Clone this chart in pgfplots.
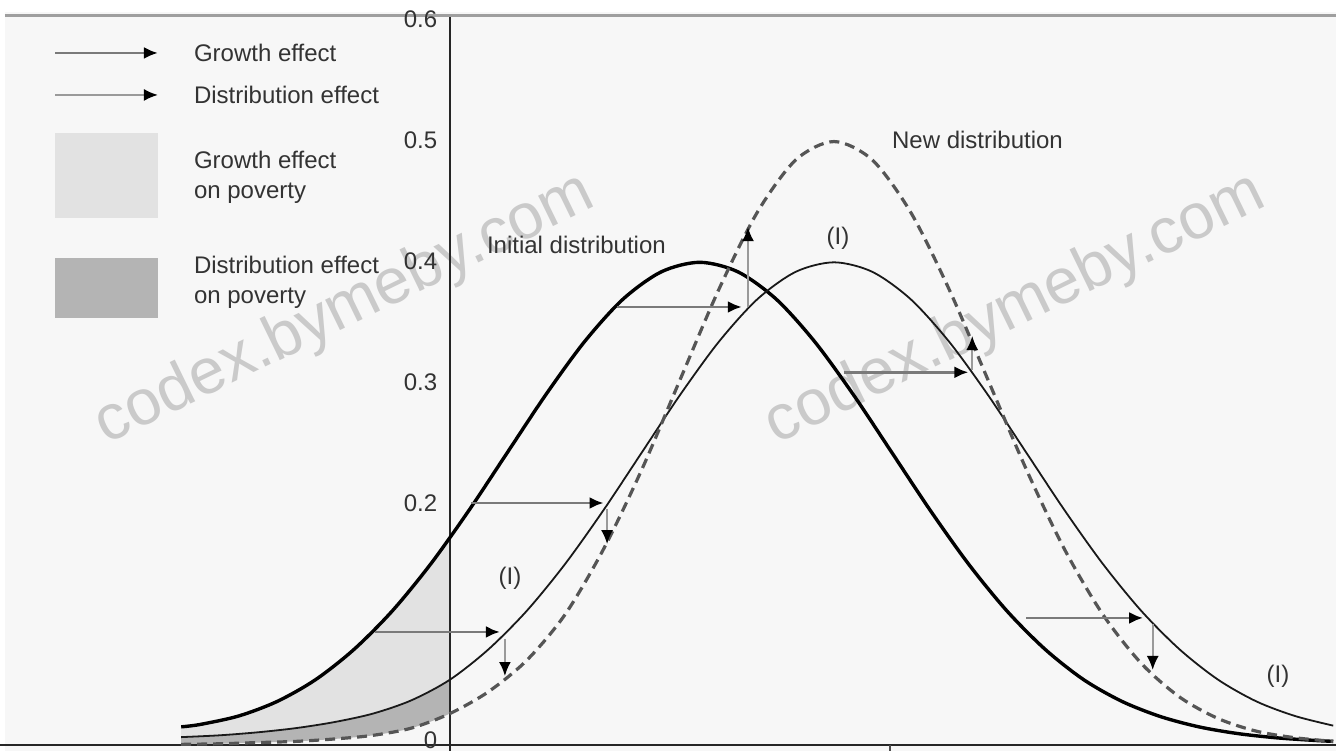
\documentclass[border=0pt]{standalone}
\usepackage{pgfplots}
\pgfplotsset{compat=1.18}
\usepackage{pgfplotstable}
\usepgfplotslibrary{fillbetween}
\usetikzlibrary{arrows.meta}
\usepackage{fontspec}
\setmainfont{Liberation Sans}

\definecolor{bgcol}{HTML}{F7F7F7}
\definecolor{growfill}{HTML}{E2E2E2}
\definecolor{distfill}{HTML}{B4B4B4}
\definecolor{growarr}{HTML}{7A7A7A}
\definecolor{distarr}{HTML}{9A9A9A}
\definecolor{txt}{HTML}{333333}
\definecolor{wm}{HTML}{CACACA}
\definecolor{newcol}{HTML}{555555}

% initial distribution
\pgfplotstableread{
x y
-1.4 0.015
-1.3 0.017
-1.1 0.024
-0.9 0.036
-0.7 0.054
-0.5 0.079
-0.3 0.1109
-0.1 0.1497
0.1 0.1942
0.3 0.2420
0.5 0.2897
0.7 0.3332
0.9 0.3683
1.1 0.3910
1.3 0.3989
1.5 0.3910
1.7 0.3683
1.9 0.3332
2.1 0.2897
2.3 0.2420
2.5 0.1942
2.7 0.1497
2.9 0.1109
3.1 0.0790
3.3 0.0540
3.5 0.0360
3.7 0.0235
3.9 0.0150
4.1 0.0095
4.3 0.0060
4.5 0.0038
4.6 0.0030
}\initial

% after growth (I)
\pgfplotstableread{
x y
-1.4 0.0065
-1.2 0.0080
-1.0 0.0105
-0.8 0.0140
-0.6 0.0190
-0.4 0.0260
-0.2 0.0370
0.0 0.0540
0.2 0.0790
0.4 0.1109
0.6 0.1497
0.8 0.1942
1.0 0.2420
1.2 0.2897
1.4 0.3332
1.6 0.3683
1.8 0.3910
2.0 0.3989
2.2 0.3910
2.4 0.3683
2.6 0.3332
2.8 0.2897
3.0 0.2420
3.2 0.1942
3.4 0.1497
3.6 0.1109
3.8 0.0790
4.0 0.0540
4.2 0.0360
4.4 0.0240
4.6 0.0160
}\growth

% new distribution
\pgfplotstableread{
x y
-1.4 0.0005
-1.2 0.001
-1.0 0.002
-0.8 0.003
-0.6 0.005
-0.4 0.008
-0.2 0.014
0.0 0.026
0.2 0.044
0.4 0.070
0.6 0.108
0.8 0.162
1.0 0.228
1.2 0.3025
1.4 0.3764
1.6 0.4401
1.8 0.4834
2.0 0.4987
2.2 0.4834
2.4 0.4401
2.6 0.3764
2.8 0.3025
3.0 0.2283
3.2 0.1619
3.4 0.1079
3.6 0.0675
3.8 0.0396
4.0 0.0219
4.2 0.0114
4.4 0.0060
4.6 0.0030
}\newdist

\begin{document}
\begin{tikzpicture}[font=\fontsize{12}{15}\selectfont]
\begin{axis}[name=ax, set layers,
  width=668pt, height=375.5pt, scale only axis,
  xmin=-2.34375, xmax=4.6146, ymin=-0.00496, ymax=0.6157,
  axis lines=none, xtick=\empty, ytick=\empty,
  axis background/.style={fill=bgcol},
  growarrow/.style={growarr, line width=1.4pt, -{Latex[black,length=7pt,width=6pt]}},
  distarrow/.style={distarr, line width=1pt, -{Latex[black,length=7pt,width=6pt]}},
]
% white margins of the scan
\fill[white] (rel axis cs:0,0.984) rectangle (rel axis cs:1,1);
\fill[white] (rel axis cs:0,0) rectangle (rel axis cs:0.004,1);

% paths for the shaded areas (left of the poverty line x = 0)
\addplot[draw=none, smooth, name path=init] table {\initial};
\addplot[draw=none, smooth, name path=grow] table {\growth};
\addplot[draw=none, smooth, name path=new] table {\newdist};
\addplot[growfill] fill between[of=init and grow,
  soft clip={(axis cs:-1.45,-0.004) rectangle (axis cs:0,0.6)}];
\addplot[distfill] fill between[of=grow and new,
  soft clip={(axis cs:-1.45,-0.004) rectangle (axis cs:0,0.6)}];

% watermark
\node[wm, rotate=26, font=\fontsize{32}{32}\selectfont] at (axis cs:-0.547,0.3595) {codex.bymeby.com};
\node[wm, rotate=26, font=\fontsize{32}{32}\selectfont] at (axis cs:2.943,0.3595) {codex.bymeby.com};

% frame lines
\draw[gray!75, line width=1.5pt] (axis cs:-2.318,0.6025) -- (axis cs:4.6146,0.6025);
\draw[black!85, line width=1.3pt] (axis cs:-2.34375,0) -- (axis cs:4.6146,0);
\draw[black!85, line width=1pt] (axis cs:0,0.6015) -- (axis cs:0,-0.00496);
\draw[black!70, line width=0.6pt] (axis cs:2.292,0) -- (axis cs:2.292,-0.005);

% curves
\addplot[black, line width=1.7pt, smooth] table {\initial};
\addplot[black!90, line width=0.9pt, smooth] table {\growth};
\addplot[newcol, line width=1.6pt, smooth, dash pattern=on 5pt off 3pt] table {\newdist};

% growth effect arrows
\addplot[growarrow] coordinates {(-0.39,0.0934) (0.26,0.0934)};
\addplot[growarrow] coordinates {(0.11,0.200) (0.80,0.200)};
\addplot[growarrow] coordinates {(0.87,0.362) (1.52,0.362)};
\addplot[growarrow] coordinates {(2.05,0.308) (2.70,0.308)};
\addplot[growarrow] coordinates {(3.00,0.105) (3.61,0.105)};
% distribution effect arrows
\addplot[distarrow] coordinates {(0.286,0.088) (0.286,0.057)};
\addplot[distarrow] coordinates {(0.818,0.195) (0.818,0.166)};
\addplot[distarrow] coordinates {(1.552,0.362) (1.552,0.428)};
\addplot[distarrow] coordinates {(2.72,0.310) (2.72,0.338)};
\addplot[distarrow] coordinates {(3.66,0.100) (3.66,0.062)};

% y tick labels
\node[anchor=east, txt] at (axis cs:-0.03,0.600) {0.6};
\node[anchor=east, txt] at (axis cs:-0.03,0.500) {0.5};
\node[anchor=east, txt] at (axis cs:-0.03,0.400) {0.4};
\node[anchor=east, txt] at (axis cs:-0.03,0.300) {0.3};
\node[anchor=east, txt] at (axis cs:-0.03,0.200) {0.2};
\node[anchor=east, txt] at (axis cs:-0.03,0.004) {0};

% curve labels
\node[anchor=west, txt] at (axis cs:0.156,0.4132) {Initial distribution};
\node[anchor=west, txt] at (axis cs:2.266,0.500) {New distribution};
\node[txt] at (axis cs:2.021,0.419) {(I)};
\node[txt] at (axis cs:0.3125,0.138) {(I)};
\node[txt] at (axis cs:4.3125,0.057) {(I)};

% legend
\addplot[growarrow] coordinates {(-2.057,0.5719) (-1.521,0.5719)};
\addplot[distarrow] coordinates {(-2.057,0.5372) (-1.521,0.5372)};
\node[anchor=west, txt] at (axis cs:-1.370,0.5719) {Growth effect};
\node[anchor=west, txt] at (axis cs:-1.370,0.5372) {Distribution effect};
\fill[growfill] (axis cs:-2.057,0.5058) rectangle (axis cs:-1.521,0.4355);
\fill[distfill] (axis cs:-2.057,0.4025) rectangle (axis cs:-1.521,0.3529);
\node[anchor=west, txt, align=left] at (axis cs:-1.370,0.4694) {Growth effect\\on poverty};
\node[anchor=west, txt, align=left] at (axis cs:-1.370,0.3826) {Distribution effect\\on poverty};
\end{axis}
\pgfresetboundingbox
\path[use as bounding box] (ax.south west) rectangle (ax.north east);
\end{tikzpicture}
\end{document}
